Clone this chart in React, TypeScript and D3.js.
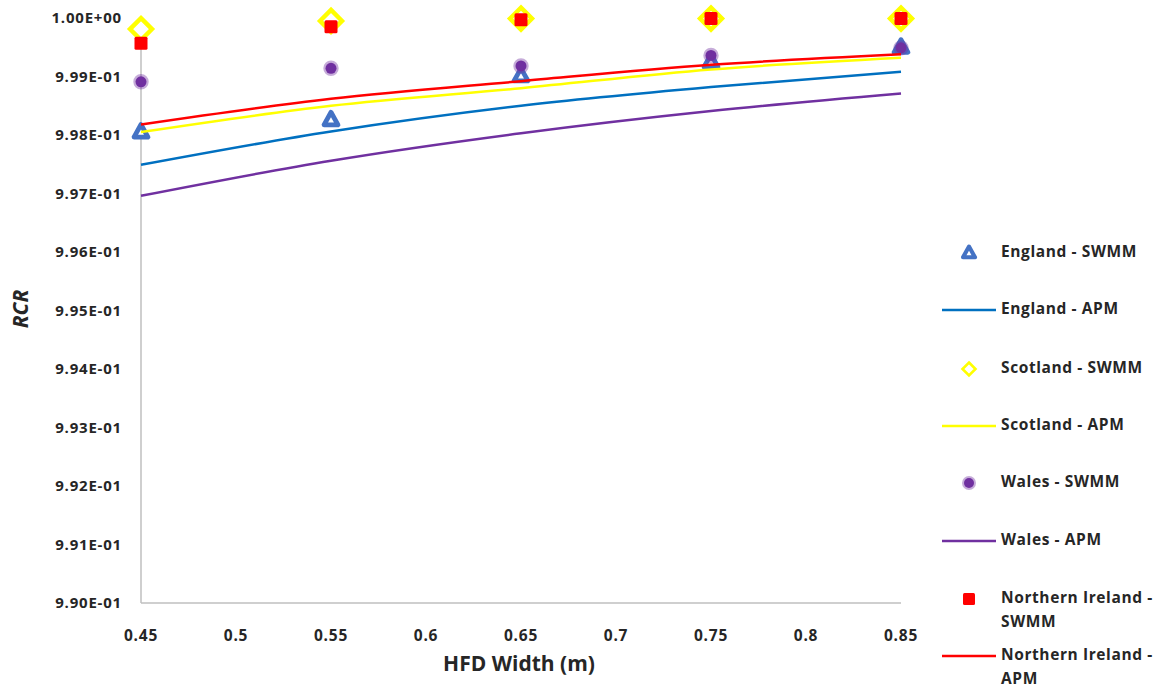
import React, { useEffect, useRef } from "react";
import * as d3 from "d3";

const widths = [0.45, 0.55, 0.65, 0.75, 0.85];
const xTicks = [0.45, 0.5, 0.55, 0.6, 0.65, 0.7, 0.75, 0.8, 0.85];
const yTicks = [0.99, 0.991, 0.992, 0.993, 0.994, 0.995, 0.996, 0.997, 0.998, 0.999, 1.0];

const englandSwmm = [0.99805, 0.99826, 0.99901, 0.99925, 0.9995];
const englandApm = [0.99749, 0.99806, 0.9985, 0.99882, 0.99908];
const scotlandSwmm = [0.99981, 0.99995, 0.99999, 0.99999, 0.99999];
const scotlandApm = [0.99805, 0.9985, 0.9988, 0.99912, 0.99932];
const walesSwmm = [0.99891, 0.99914, 0.99918, 0.99936, 0.99949];
const walesApm = [0.99696, 0.99756, 0.99803, 0.99841, 0.99871];
const niSwmm = [0.99957, 0.99985, 0.99997, 0.99999, 0.99999];
const niApm = [0.99818, 0.99862, 0.99892, 0.9992, 0.99938];

type Series = {
  name: string[];
  values: number[];
  kind: "tri" | "diamond" | "circle" | "square" | "line";
  color: string;
};

const series: Series[] = [
  { name: ["England - SWMM"], values: englandSwmm, kind: "tri", color: "#4472C4" },
  { name: ["England - APM"], values: englandApm, kind: "line", color: "#0070C0" },
  { name: ["Scotland - SWMM"], values: scotlandSwmm, kind: "diamond", color: "#FFFF00" },
  { name: ["Scotland - APM"], values: scotlandApm, kind: "line", color: "#FFFF00" },
  { name: ["Wales - SWMM"], values: walesSwmm, kind: "circle", color: "#7030A0" },
  { name: ["Wales - APM"], values: walesApm, kind: "line", color: "#7030A0" },
  { name: ["Northern Ireland -", "SWMM"], values: niSwmm, kind: "square", color: "#FF0000" },
  { name: ["Northern Ireland -", "APM"], values: niApm, kind: "line", color: "#FF0000" },
];

const legendY = [253, 310, 369, 426, 483, 541, 599, 656];
const FONT = "'Open Sans', sans-serif";
const TEXT = "#262626";

function drawMarker(g: any, kind: string, color: string, x: number, y: number, s: number) {
  if (kind === "tri") {
    const h = s * 0.9;
    g.append("path")
      .attr("d", `M${x},${y - h * 0.6} L${x + s / 2},${y + h * 0.4} L${x - s / 2},${y + h * 0.4} Z`)
      .attr("fill", "#fff")
      .attr("stroke", color)
      .attr("stroke-width", s * 0.34)
      .attr("stroke-linejoin", "round");
  } else if (kind === "diamond") {
    const r = s / 2;
    g.append("path")
      .attr("d", `M${x},${y - r} L${x + r},${y} L${x},${y + r} L${x - r},${y} Z`)
      .attr("fill", "#fff")
      .attr("stroke", color)
      .attr("stroke-width", s * 0.2);
  } else if (kind === "circle") {
    g.append("circle")
      .attr("cx", x)
      .attr("cy", y)
      .attr("r", s / 2)
      .attr("fill", color)
      .attr("stroke", color)
      .attr("stroke-opacity", 0.4)
      .attr("stroke-width", s * 0.4);
  } else if (kind === "square") {
    g.append("rect")
      .attr("x", x - s / 2)
      .attr("y", y - s / 2)
      .attr("width", s)
      .attr("height", s)
      .attr("rx", 1.5)
      .attr("fill", color);
  }
}

export default function App() {
  const ref = useRef<SVGSVGElement>(null);

  useEffect(() => {
    const svg = d3.select(ref.current).attr("width", 1157).attr("height", 689);
    svg.selectAll("*").remove();

    const x = d3.scaleLinear().domain([0.45, 0.85]).range([141, 901]);
    const y = d3.scaleLinear().domain([0.99, 1.0]).range([603, 18]);

    // axes (no ticks, no gridlines)
    svg.append("line")
      .attr("x1", x(0.45)).attr("x2", x(0.45))
      .attr("y1", y(1.0)).attr("y2", y(0.99))
      .attr("stroke", "#BFBFBF").attr("stroke-width", 1.5);
    svg.append("line")
      .attr("x1", x(0.45)).attr("x2", x(0.85))
      .attr("y1", y(0.99)).attr("y2", y(0.99))
      .attr("stroke", "#BFBFBF").attr("stroke-width", 1.5);

    svg.append("g")
      .selectAll("text")
      .data(yTicks)
      .enter()
      .append("text")
      .attr("x", 122)
      .attr("y", (d) => y(d) + 1)
      .attr("text-anchor", "end")
      .attr("dominant-baseline", "middle")
      .style("font-family", FONT)
      .style("font-weight", "bold")
      .style("font-size", "15px")
      .style("letter-spacing", "0.8px")
      .attr("fill", TEXT)
      .text((d) => (d === 1 ? "1.00E+00" : (d * 10).toFixed(2) + "E-01"));

    svg.append("g")
      .selectAll("text")
      .data(xTicks)
      .enter()
      .append("text")
      .attr("x", (d) => x(d))
      .attr("y", 637)
      .attr("text-anchor", "middle")
      .attr("dominant-baseline", "middle")
      .style("font-family", FONT)
      .style("font-weight", "bold")
      .style("font-size", "15.5px")
      .style("letter-spacing", "0.8px")
      .attr("fill", TEXT)
      .text((d) => String(d));

    svg.append("text")
      .attr("x", 519)
      .attr("y", 665)
      .attr("text-anchor", "middle")
      .attr("dominant-baseline", "middle")
      .style("font-family", FONT)
      .style("font-weight", "bold")
      .style("font-size", "21px")
      .attr("fill", TEXT)
      .text("HFD Width (m)");

    svg.append("text")
      .attr("transform", "translate(22,309) rotate(-90)")
      .attr("text-anchor", "middle")
      .attr("dominant-baseline", "middle")
      .style("font-family", FONT)
      .style("font-weight", "bold")
      .style("font-style", "italic")
      .style("font-size", "21px")
      .attr("fill", TEXT)
      .text("RCR");

    const line = d3
      .line<number>()
      .x((_, i) => x(widths[i]))
      .y((d) => y(d))
      .curve(d3.curveMonotoneX);

    const plot = svg.append("g");
    const sizes: Record<string, number> = { tri: 14, diamond: 22, circle: 11, square: 13 };
    series.forEach((s) => {
      if (s.kind === "line") {
        plot.append("path")
          .attr("d", line(s.values))
          .attr("fill", "none")
          .attr("stroke", s.color)
          .attr("stroke-width", 2.5);
      } else {
        s.values.forEach((v, i) => drawMarker(plot, s.kind, s.color, x(widths[i]), y(v), sizes[s.kind]));
      }
    });

    // legend
    const legend = svg.append("g");
    const legendSizes: Record<string, number> = { tri: 12, diamond: 13, circle: 10, square: 12 };
    series.forEach((s, i) => {
      const ly = legendY[i];
      if (s.kind === "line") {
        legend.append("line")
          .attr("x1", 942).attr("x2", 996)
          .attr("y1", ly).attr("y2", ly)
          .attr("stroke", s.color).attr("stroke-width", 2.5);
      } else {
        drawMarker(legend, s.kind, s.color, 969, ly, legendSizes[s.kind]);
      }
      s.name.forEach((t, j) => {
        legend.append("text")
          .attr("x", 1001)
          .attr("y", ly + j * 23.5)
          .attr("dominant-baseline", "middle")
          .style("font-family", FONT)
          .style("font-weight", "bold")
          .style("font-size", "15.5px")
          .style("letter-spacing", "0.6px")
          .attr("fill", TEXT)
          .text(t);
      });
    });
  }, []);

  return <svg ref={ref} style={{ position: "absolute", left: 0, top: 0 }} />;
}
